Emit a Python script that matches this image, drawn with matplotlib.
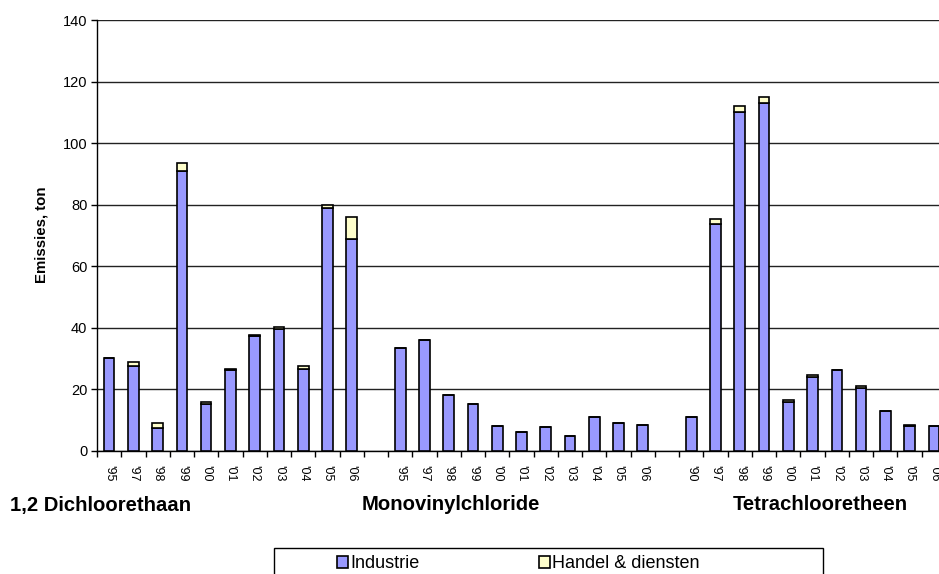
import numpy as np
import matplotlib
matplotlib.use("Agg")
import matplotlib.pyplot as plt
from matplotlib.patches import Rectangle
from matplotlib.ticker import FixedLocator, MultipleLocator

plt.rcParams['font.family'] = ['Liberation Sans', 'DejaVu Sans']

# ---- data ----
groups = ["1,2 Dichloorethaan", "Monovinylchloride", "Tetrachlooretheen"]
years_g1 = ["'95", "'97", "'98", "'99", "'00", "'01", "'02", "'03", "'04", "'05", "'06"]
years_g2 = ["'95", "'97", "'98", "'99", "'00", "'01", "'02", "'03", "'04", "'05", "'06"]
years_g3 = ["'90", "'97", "'98", "'99", "'00", "'01", "'02", "'03", "'04", "'05", "'06"]

industrie_g1 = [30.1, 27.5, 7.6, 91.0, 15.4, 26.3, 37.3, 39.5, 26.7, 79.0, 69.0]
handel_g1    = [0.0, 1.5, 1.5, 2.4, 0.4, 0.3, 0.3, 0.9, 0.8, 0.8, 7.0]
industrie_g2 = [33.5, 36.0, 18.2, 15.3, 8.2, 6.1, 7.8, 5.0, 11.2, 9.1, 8.4]
handel_g2    = [0.0, 0.0, 0.0, 0.0, 0.0, 0.0, 0.0, 0.0, 0.0, 0.0, 0.0]
industrie_g3 = [11.2, 73.8, 110.0, 112.9, 15.8, 23.9, 26.3, 20.6, 13.0, 8.2, 8.0]
handel_g3    = [0.0, 1.4, 2.0, 2.2, 0.9, 0.7, 0.0, 0.5, 0.0, 0.4, 0.0]

series_names = ["Industrie", "Handel & diensten"]
colors = ["#9999FF", "#FFFFCC"]

# Build category axis with empty slot between groups
labels = years_g1 + [""] + years_g2 + [""] + years_g3
ind = industrie_g1 + [np.nan] + industrie_g2 + [np.nan] + industrie_g3
han = handel_g1 + [np.nan] + handel_g2 + [np.nan] + handel_g3
ind = np.array(ind, dtype=float)
han = np.array(han, dtype=float)
x = np.arange(len(labels))

W, H = 939, 574
fig = plt.figure(figsize=(W / 100, H / 100), dpi=100)
ax = fig.add_axes([97 / W, 1 - 451 / H, 849 / W, 431 / H])

mask = ~np.isnan(ind)
b1 = ax.bar(x[mask], ind[mask], width=0.44, color=colors[0], edgecolor="black",
            linewidth=1.2, label=series_names[0], zorder=3)
b2 = ax.bar(x[mask], han[mask], width=0.44, bottom=ind[mask], color=colors[1],
            edgecolor="black", linewidth=1.2, label=series_names[1], zorder=3)

ax.set_xlim(-0.5, len(labels) - 0.5)
ax.set_ylim(0, 140)
ax.yaxis.set_major_locator(MultipleLocator(20))
ax.yaxis.grid(True, color="#222222", linewidth=1.0, zorder=0)
ax.set_axisbelow(True)

for s in ["top", "right"]:
    ax.spines[s].set_visible(False)
ax.spines["left"].set_color("black")
ax.spines["bottom"].set_color("black")
ax.spines["left"].set_linewidth(1.0)
ax.spines["bottom"].set_linewidth(1.0)

ax.set_xticks(x[mask])
ax.set_xticklabels([labels[i] for i in x[mask]], rotation=270, fontsize=9)
ax.tick_params(axis="x", which="major", length=0, pad=10)
ax.xaxis.set_minor_locator(FixedLocator(np.arange(len(labels) + 1) - 0.5))
ax.tick_params(axis="x", which="minor", length=4, width=1, color="black", direction="out")
ax.tick_params(axis="y", length=4, width=1, direction="out", labelsize=10.5, pad=3)

# Y label
fig.text(42 / W, 1 - 235 / H, "Emissies, ton", rotation=90, fontsize=10.8,
         fontweight="bold", ha="center", va="center")

# Group labels
fig.text(10 / W, 1 - 505 / H, groups[0], fontsize=14.6, fontweight="bold", ha="left", va="center")
fig.text(362 / W, 1 - 505 / H, groups[1], fontsize=14.6, fontweight="bold", ha="left", va="center")
fig.text(733 / W, 1 - 505 / H, groups[2], fontsize=14.6, fontweight="bold", ha="left", va="center")

# Legend frame
frame = Rectangle((274 / W, -0.05), (823 - 274) / W, (1 - 548 / H) + 0.05,
                  transform=fig.transFigure, fill=False, edgecolor="black", linewidth=1.0)
fig.patches.append(frame)

leg = fig.legend(handles=[b1, b2], labels=series_names, loc="center left",
                 bbox_to_anchor=(337 / W, 1 - 564 / H), ncol=2, frameon=False,
                 fontsize=13, handlelength=0.6, handleheight=0.6, handletextpad=0.15,
                 columnspacing=6.6, borderpad=0, borderaxespad=0)

fig.savefig("out.png", dpi=100)
